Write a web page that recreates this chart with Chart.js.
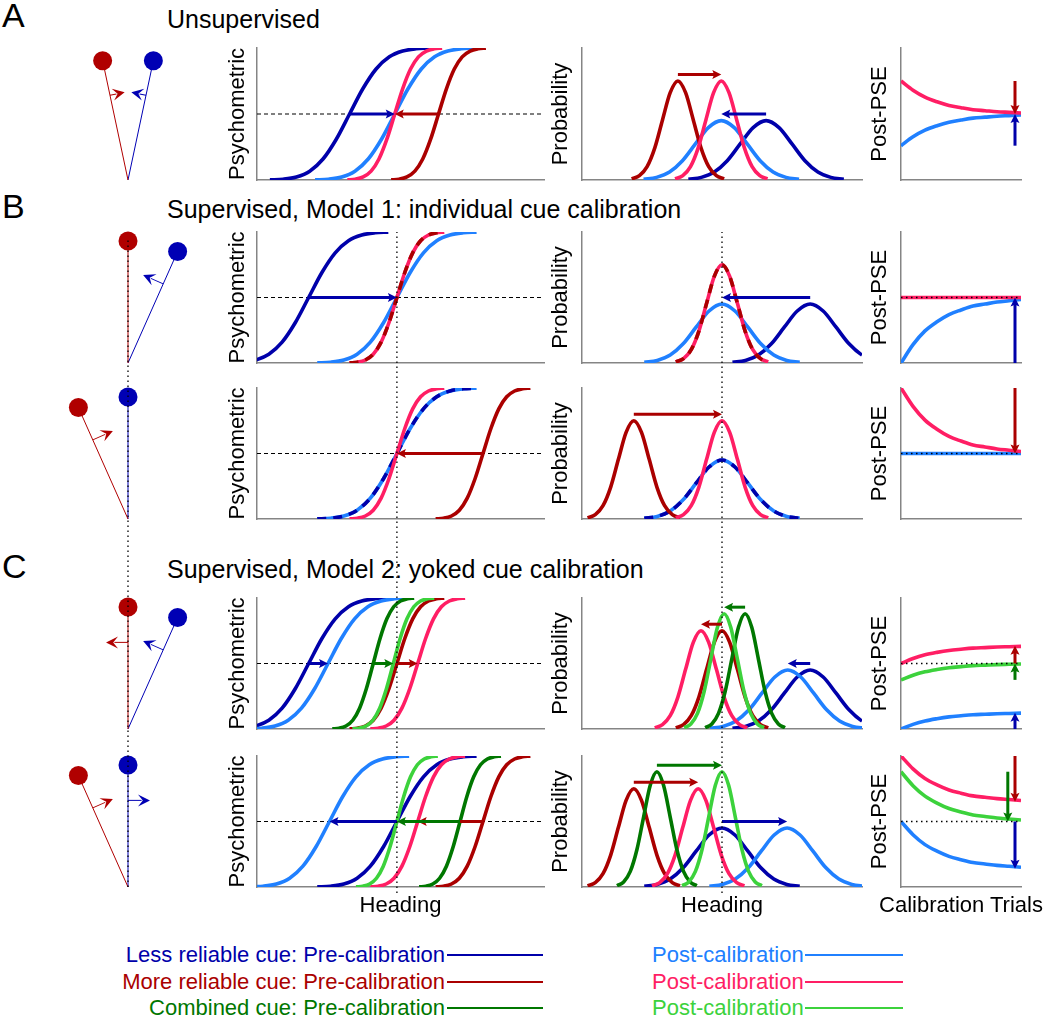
<!DOCTYPE html>
<html>
<head>
<meta charset="utf-8">
<script src="https://cdn.jsdelivr.net/npm/chart.js@4.4.0/dist/chart.umd.min.js"></script>
<style>
  body { margin: 0; background: #fff; }
  #page { position: relative; width: 1050px; height: 1017px; overflow: hidden; font-family: "Liberation Sans", Arial, sans-serif; }
  #page canvas { position: absolute; }
  .txt { position: absolute; white-space: nowrap; }
  .bar { position: absolute; height: 2px; }
</style>
</head>
<body>
<div id="page"></div>
<script>
// ---- data ----
const rowLetters = ['A', 'B', '', 'C', ''];
const rowTitles = ['Unsupervised', 'Supervised, Model 1: individual cue calibration', '',
                   'Supervised, Model 2: yoked cue calibration', ''];
const rowSupervised = [false, true, true, true, true];

// cues: less reliable, more reliable, combined
const cueSigma = [1.85, 1.1, 0.95];
const cuePeak = [0.45, 0.75, 0.88];
const preColors = ['#0000aa', '#aa0000', '#007700'];
const postColors = ['#2080ff', '#ff1e64', '#3cd23c'];

// heading units, 0 = true heading; null = cue not shown in that row
const psychPre  = [[-3.3, 2.9, null], [-6.15, 0, null], [0, 6.0, null], [-6.15, 0, -1.65], [0, 6.0, 4.4]];
const psychPost = [[-0.15, -0.15, null], [0, 0, null], [0, 0, null], [-4.8, 1.45, -0.25], [-4.7, 1.45, 0]];
const probPre   = [[3.15, -3.15, null], [6.3, 0, null], [0, -6.3, null], [6.3, 0, 1.65], [0, -6.3, -4.65]];
const probPost  = [[-0.05, -0.05, null], [0, 0, null], [0, 0, null], [4.7, -1.5, 0.15], [4.65, -1.7, 0]];

// post-PSE: value at first and last calibration trial (-1 bottom .. 1 top)
const pseStart = [[-0.48, 0.5, null], [-1, 0, null], [0, 1, null], [-1, 0, -0.25], [0, 1, 0.76]];
const pseEnd   = [[0, 0, null], [0, 0, null], [0, 0, null], [-0.75, 0.27, 0], [-0.72, 0.3, 0]];

// curve shapes, sampled every half sigma from -3 to +3
const sigmaSteps = [-3, -2.5, -2, -1.5, -1, -0.5, 0, 0.5, 1, 1.5, 2, 2.5, 3];
const sigmoidShape = [0.001, 0.006, 0.023, 0.067, 0.159, 0.309, 0.5, 0.691, 0.841, 0.933, 0.977, 0.994, 0.999];
const bellShape = [0.011, 0.044, 0.135, 0.325, 0.607, 0.882, 1, 0.882, 0.607, 0.325, 0.135, 0.044, 0.011];
const trialSteps = [0, 0.1, 0.2, 0.3, 0.4, 0.5, 0.6, 0.7, 0.8, 0.9, 1];
const decayShape = [1, 0.72, 0.51, 0.37, 0.26, 0.19, 0.13, 0.1, 0.07, 0.05, 0.03];

// schematic headings (degrees from vertical) and direction of the correction arrow
const redAngle = [-12, 0, -24, 0, -24];
const blueAngle = [12, 24, 0, 24, 0];
const redTurn = [1, 0, 1, -1, 1];
const blueTurn = [-1, -1, 0, -1, 1];

const legendPre = ['Less reliable cue: Pre-calibration', 'More reliable cue: Pre-calibration', 'Combined cue: Pre-calibration'];
const legendPost = ['Post-calibration', 'Post-calibration', 'Post-calibration'];

// ---- layout ----
const page = document.getElementById('page');
const fontFamily = '"Liberation Sans", Arial, sans-serif';
const axisGray = '#858585';
const rowBoxes = [[48, 180], [232, 363], [388, 519], [598, 729], [756, 887]];
const psychPix = [257, 544], probPix = [582, 862], psePix = [901, 1021];
const psychDomain = [-9.75, 10.25], probDomain = [-10, 10];
const schemPix = [63, 193], schemDomain = [-0.5328, 0.5328], schemTop = 1.1475;
const turnLen = [15, 22, 22, 22, 22];
const pseArrowX = [[0.95, 0.95, 0.95], [0.95, 0.95, 0.95], [0.95, 0.95, 0.95], [0.95, 0.95, 0.95], [0.95, 0.95, 0.89]];
const letterTops = [-2, 189, 0, 549, 0];
const titleTops = [7, 197, 0, 557, 0];
const legendTops = [944, 971, 997];
const legendLineY = [954, 981, 1007];

Chart.defaults.font.family = fontFamily;

function place(left, top, width, height) {
    const c = document.createElement('canvas');
    c.width = width;
    c.height = height;
    c.style.left = left + 'px';
    c.style.top = top + 'px';
    c.style.width = width + 'px';
    c.style.height = height + 'px';
    page.appendChild(c);
    return c;
}

function text(str, left, top, size, color, width, align) {
    const d = document.createElement('div');
    d.className = 'txt';
    d.textContent = str;
    d.style.left = left + 'px';
    d.style.top = top + 'px';
    d.style.fontSize = size + 'px';
    d.style.lineHeight = size + 'px';
    d.style.color = color;
    if (width) {
        d.style.width = width + 'px';
        d.style.textAlign = align;
    }
    page.appendChild(d);
}

function drawArrow(ctx, x0, y0, x1, y1, color, width, head, half, notch) {
    const ang = Math.atan2(y1 - y0, x1 - x0);
    const len = Math.hypot(x1 - x0, y1 - y0);
    ctx.save();
    ctx.translate(x0, y0);
    ctx.rotate(ang);
    ctx.strokeStyle = color;
    ctx.fillStyle = color;
    ctx.lineWidth = width;
    ctx.beginPath();
    ctx.moveTo(0, 0);
    ctx.lineTo(Math.max(0, len - head * 0.7), 0);
    ctx.stroke();
    ctx.beginPath();
    ctx.moveTo(len, 0);
    ctx.lineTo(len - head, -half);
    ctx.lineTo(len - head * notch, 0);
    ctx.lineTo(len - head, half);
    ctx.closePath();
    ctx.fill();
    ctx.restore();
}

// arrows given in data units of the chart they sit on
function arrowLayer(items) {
    return {
        id: 'arrowLayer',
        afterDatasetsDraw(chart) {
            const {ctx, scales: {x, y}} = chart;
            items.forEach(a => {
                drawArrow(ctx, x.getPixelForValue(a.x0), y.getPixelForValue(a.y0),
                          x.getPixelForValue(a.x1), y.getPixelForValue(a.y1), a.color, 3, 9, 4.5, 0.8);
            });
        }
    };
}

function curve(points, color, dash) {
    return {data: points, borderColor: color, borderWidth: 3.6, borderDash: dash || [],
            pointRadius: 0, cubicInterpolationMode: 'monotone', fill: false};
}

function rule(x0, x1, y0, y1, dash, width) {
    return {data: [{x: x0, y: y0}, {x: x1, y: y1}], borderColor: '#000', borderWidth: width || 1.2,
            borderDash: dash, pointRadius: 0, fill: false};
}

function sigmoidPoints(mean, sigma) {
    return sigmaSteps.map((s, i) => ({x: mean + s * sigma, y: sigmoidShape[i]}));
}

function bellPoints(mean, sigma, peak) {
    return sigmaSteps.map((s, i) => ({x: mean + s * sigma, y: bellShape[i] * peak}));
}

// pre then post, or post solid with the pre curve dashed on top when they coincide
function cueCurves(list, pre, post, c, pointsFor) {
    if (pre === null) return;
    if (pre === post) {
        list.push(curve(pointsFor(post, c), postColors[c]));
        list.push(curve(pointsFor(pre, c), preColors[c], [9, 7]));
    } else {
        list.push(curve(pointsFor(pre, c), preColors[c]));
        list.push(curve(pointsFor(post, c), postColors[c]));
    }
}

function panel(xPix, box, xRange, yRange, yTitle, titleGap, datasets, arrows) {
    const padL = 46, pad = 6;
    const canvas = place(xPix[0] - padL, box[0] - pad, xPix[1] - xPix[0] + padL + pad, box[1] - box[0] + 2 * pad);
    datasets.forEach((d, i) => { d.order = datasets.length - i; });
    const hidden = {display: false};
    return new Chart(canvas, {
        type: 'line',
        data: {datasets: datasets},
        options: {
            responsive: false,
            animation: false,
            events: [],
            layout: {autoPadding: false, padding: {left: padL - titleGap, top: pad, right: pad, bottom: pad}},
            plugins: {legend: hidden, tooltip: {enabled: false}},
            scales: {
                x: {
                    type: 'linear', min: xRange[0], max: xRange[1],
                    ticks: hidden, grid: {display: false, drawTicks: false},
                    border: {color: axisGray, width: 1.5},
                    afterFit: s => { s.height = 0; }
                },
                y: {
                    type: 'linear', min: yRange[0], max: yRange[1],
                    ticks: hidden, grid: {display: false, drawTicks: false},
                    border: {color: axisGray, width: 1.5},
                    title: {display: true, text: yTitle, color: '#000', padding: 0,
                            font: {family: fontFamily, size: 22}},
                    afterFit: s => { s.width = titleGap; }
                }
            }
        },
        plugins: [arrowLayer(arrows)]
    });
}

function bareChart(left, top, width, height, xRange, yRange, datasets, plugins) {
    const canvas = place(left, top, width, height);
    return new Chart(canvas, {
        type: 'line',
        data: {datasets: datasets},
        options: {
            responsive: false,
            animation: false,
            events: [],
            layout: {autoPadding: false, padding: 0},
            plugins: {legend: {display: false}, tooltip: {enabled: false}},
            scales: {
                x: {type: 'linear', display: false, min: xRange[0], max: xRange[1]},
                y: {type: 'linear', display: false, min: yRange[0], max: yRange[1]}
            }
        },
        plugins: plugins || []
    });
}

function schematic(r, box) {
    const cues = [[redAngle[r], redTurn[r], '#b00000'], [blueAngle[r], blueTurn[r], '#0000b4']];
    const sets = cues.map(([deg, turn, color]) => {
        const t = deg * Math.PI / 180;
        return {data: [{x: 0, y: 0}, {x: Math.sin(t), y: Math.cos(t)}], borderColor: color, borderWidth: 1,
                pointRadius: [0, 9.5], pointBackgroundColor: color, pointBorderWidth: 0, clip: false};
    });
    const turns = {
        id: 'turns',
        afterDatasetsDraw(chart) {
            const {ctx, scales: {x, y}} = chart;
            cues.forEach(([deg, turn, color]) => {
                if (!turn) return;
                const t = deg * Math.PI / 180;
                const bx = x.getPixelForValue(Math.sin(t) * 0.71);
                const by = y.getPixelForValue(Math.cos(t) * 0.71);
                const len = turnLen[r];
                drawArrow(ctx, bx, by, bx + turn * Math.cos(t) * len, by + turn * Math.sin(t) * len,
                          color, 1, 12, 6, 0.6);
            });
        }
    };
    bareChart(schemPix[0], box[1] - 140, schemPix[1] - schemPix[0], 140, schemDomain, [0, schemTop], sets, [turns]);
}

// ---- rows ----
rowBoxes.forEach((box, r) => {
    if (rowLetters[r]) {
        text(rowLetters[r], 2, letterTops[r], 34, '#000');
        text(rowTitles[r], 167, titleTops[r], 25, '#000');
    }
    schematic(r, box);

    const psychSets = [rule(psychDomain[0], psychDomain[1], 0.5, 0.5, [4, 3])];
    const probSets = [];
    const pseSets = [];
    const psychArrows = [], probArrows = [], pseArrows = [];
    [0, 1, 2].forEach(c => {
        cueCurves(psychSets, psychPre[r][c], psychPost[r][c], c, (m, k) => sigmoidPoints(m, cueSigma[k]));
        cueCurves(probSets, probPre[r][c], probPost[r][c], c, (m, k) => bellPoints(m, cueSigma[k], cuePeak[k]));
        if (psychPre[r][c] === null) return;
        if (psychPre[r][c] !== psychPost[r][c]) {
            psychArrows.push({x0: psychPre[r][c], y0: 0.5, x1: psychPost[r][c], y1: 0.5, color: preColors[c]});
        }
        if (probPre[r][c] !== probPost[r][c]) {
            const lvl = cuePeak[c] + 0.05;
            probArrows.push({x0: probPre[r][c], y0: lvl, x1: probPost[r][c], y1: lvl, color: preColors[c]});
        }
        const s = pseStart[r][c], e = pseEnd[r][c];
        pseSets.push(curve(trialSteps.map((t, i) => ({x: t, y: e + (s - e) * decayShape[i]})), postColors[c]));
        if (s !== e) {
            pseArrows.push({x0: pseArrowX[r][c], y0: s, x1: pseArrowX[r][c], y1: e, color: preColors[c]});
        }
    });
    if (rowSupervised[r]) pseSets.push(rule(0, 1, 0, 0, [1.5, 3.5], 1.3));

    panel(psychPix, box, psychDomain, [0, 1], 'Psychometric', 32, psychSets, psychArrows);
    panel(probPix, box, probDomain, [0, 1], 'Probability', 34, probSets, probArrows);
    panel(psePix, box, [0, 1], [-1, 1], 'Post-PSE', 34, pseSets, pseArrows);
});

// ---- dotted true-heading guides through the supervised rows ----
const guideDash = [1.5, 3.5];
bareChart(psychPix[0], 232, psychPix[1] - psychPix[0], 893 - 232, psychDomain, [0, 1],
          [rule(0, 0, 0, 1, guideDash, 1.3)]);
bareChart(probPix[0], 232, probPix[1] - probPix[0], 893 - 232, probDomain, [0, 1],
          [rule(0, 0, 0, 1, guideDash, 1.3)]);
bareChart(schemPix[0], 240, schemPix[1] - schemPix[0], 887 - 240, schemDomain, [0, 1],
          [rule(0, 0, 0, 1, guideDash, 1.3)]);

// ---- axis names under the last row ----
text('Heading', (psychPix[0] + psychPix[1]) / 2 - 100, 894, 22, '#000', 200, 'center');
text('Heading', (probPix[0] + probPix[1]) / 2 - 100, 894, 22, '#000', 200, 'center');
text('Calibration Trials', (psePix[0] + psePix[1]) / 2 - 100, 894, 22, '#000', 200, 'center');

// ---- legend ----
legendPre.forEach((label, i) => {
    text(label, 45, legendTops[i], 22, preColors[i], 400, 'right');
    const a = document.createElement('div');
    a.className = 'bar';
    a.style.left = '447px'; a.style.top = legendLineY[i] + 'px'; a.style.width = '96px';
    a.style.background = preColors[i];
    page.appendChild(a);
    text(legendPost[i], 652, legendTops[i], 22, postColors[i]);
    const b = document.createElement('div');
    b.className = 'bar';
    b.style.left = '805px'; b.style.top = legendLineY[i] + 'px'; b.style.width = '98px';
    b.style.background = postColors[i];
    page.appendChild(b);
});
</script>
</body>
</html>
